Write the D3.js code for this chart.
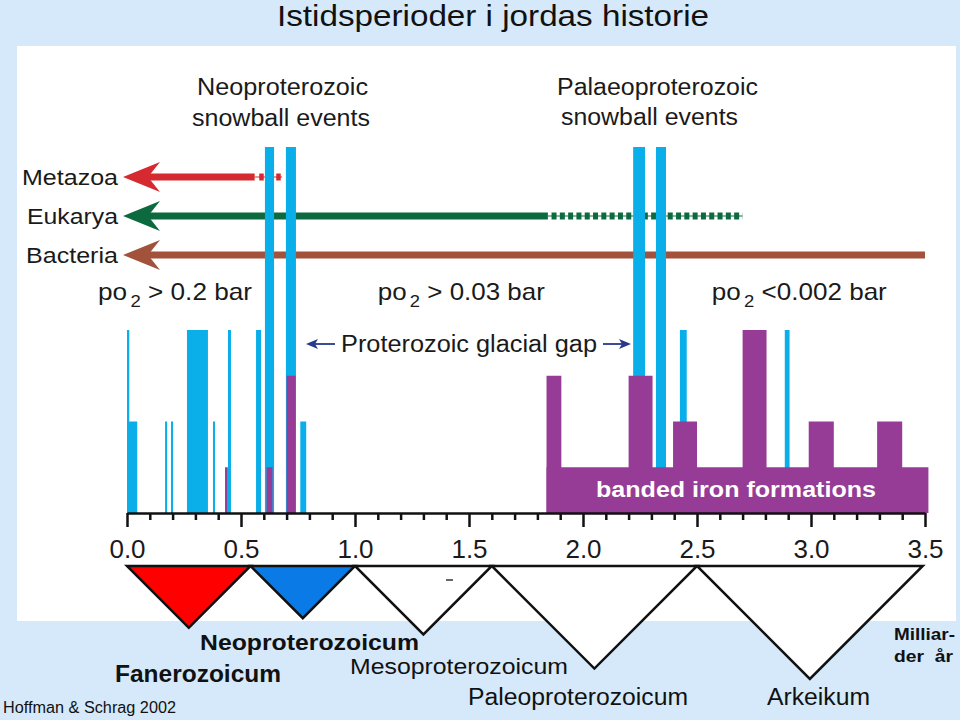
<!DOCTYPE html>
<html><head><meta charset="utf-8">
<script src="https://cdn.jsdelivr.net/npm/d3@7"></script>
<style>
html,body{margin:0;padding:0;background:#d5e9fa;}
svg{display:block;font-family:"Liberation Sans",Arial,Helvetica,sans-serif;}
</style></head>
<body>
<svg id="c" width="960" height="720"></svg>
<script>
// ---------- data ----------
const title = "Istidsperioder i jordas historie";
const tickValues = [0, 0.5, 1.0, 1.5, 2.0, 2.5, 3.0, 3.5];
const tickLabels = ["0.0","0.5","1.0","1.5","2.0","2.5","3.0","3.5"];
// glaciation deposits (Ga start, Ga end, relative height)
const glacialStart  = [0.0, 0.0, 0.167, 0.193, 0.263, 0.377, 0.443, 0.566, 0.605, 0.697, 0.76, 2.22, 2.32, 2.425, 2.885];
const glacialEnd    = [0.01, 0.045, 0.176, 0.202, 0.355, 0.386, 0.456, 0.588, 0.645, 0.741, 0.786, 2.272, 2.364, 2.455, 2.906];
const glacialHeight = [4, 2, 2, 2, 4, 2, 4, 4, 8, 8, 2, 8, 8, 4, 4];
// banded iron formations
const bifStart  = [0.43, 0.612, 0.7, 1.84, 1.84, 2.2, 2.395, 2.7, 2.99, 3.29];
const bifEnd    = [0.442, 0.638, 0.74, 1.905, 3.515, 2.305, 2.5, 2.805, 3.1, 3.4];
const bifHeight = [1, 1, 3, 3, 1, 3, 2, 4, 2, 2];
// lineages
const lineageNames = ["Metazoa", "Eukarya", "Bacteria"];
const lineageSolidEnd = [0.56, 1.846, 3.5];
const lineageDashStart = [0.58, 1.862, null];
const lineageDashEnd = [0.68, 2.7, null];
// oxygen levels
const oxyValues = [" > 0.2 bar", " > 0.03 bar", " <0.002 bar"];
const oxyPos = [-0.127, 1.1, 2.565];
// eras (Ga)
const eraNames = ["Fanerozoicum", "Neoproterozoicum", "Mesoproterozoicum", "Paleoproterozoicum", "Arkeikum"];
const eraStart = [0.0, 0.542, 1.0, 1.6, 2.5];
const eraEnd   = [0.542, 1.0, 1.6, 2.5, 3.49];

// ---------- setup ----------
const svg = d3.select("#c");
const x = d3.scaleLinear().domain([0, 3.5]).range([127, 925]);
const y = d3.scaleLinear().domain([0, 8]).range([513, 147]);
const lineageColor = d3.scaleOrdinal().domain(lineageNames).range(["#d42a30", "#0d6a3f", "#a2513a"]);
const eraFill = d3.scaleOrdinal().domain(eraNames).range(["#ff0000", "#0a7be6", "#ffffff", "#ffffff", "#ffffff"]);
const blue = "#0aaee8", purple = "#963c96";

function txt(parent, x0, y0, s, size, len, o = {}) {
  const t = parent.append("text").attr("x", x0).attr("y", y0).attr("font-size", size)
    .attr("fill", o.fill || "#1a1a1a").text(s);
  if (len) t.attr("textLength", len).attr("lengthAdjust", "spacingAndGlyphs");
  if (o.bold) t.attr("font-weight", "bold");
  if (o.anchor) t.attr("text-anchor", o.anchor);
  return t;
}

svg.append("rect").attr("width", 960).attr("height", 720).attr("fill", "#d5e9fa");
svg.append("rect").attr("x", 17).attr("y", 46).attr("width", 939).attr("height", 575).attr("fill", "#ffffff");

txt(svg, 277, 26, title, 30, 432, {fill: "#111"});

// snowball labels
txt(svg, 197, 95, "Neoproterozoic", 23, 171);
txt(svg, 192, 126, "snowball events", 23, 178);
txt(svg, 557, 95, "Palaeoproterozoic", 23, 201);
txt(svg, 561, 125, "snowball events", 23, 177);

// lineages
const rowY = [177, 216, 255];
const lineageTextX = [22, 27, 26];
lineageNames.forEach((n, i) => {
  const c = lineageColor(n), yy = rowY[i];
  const g = svg.append("g");
  g.append("line").attr("x1", x(0) + 20).attr("x2", x(lineageSolidEnd[i])).attr("y1", yy).attr("y2", yy)
    .attr("stroke", c).attr("stroke-width", 7);
  if (lineageDashStart[i] != null) {
    g.append("line").attr("x1", x(lineageSolidEnd[i])).attr("x2", x(lineageDashEnd[i])).attr("y1", yy).attr("y2", yy)
      .attr("stroke", c).attr("stroke-width", 1);
    g.append("line").attr("x1", x(lineageDashStart[i])).attr("x2", x(lineageDashEnd[i])).attr("y1", yy).attr("y2", yy)
      .attr("stroke", c).attr("stroke-width", 7).attr("stroke-dasharray", i === 0 ? "4.5,4" : "5,3.3");
  }
  const tip = x(0) - 4;
  g.append("path").attr("d", `M${tip},${yy} L${tip + 37},${yy - 15} L${tip + 25},${yy} L${tip + 37},${yy + 15} Z`).attr("fill", c);
  txt(svg, lineageTextX[i], yy + 8, n, 22.5, 118 - lineageTextX[i]);
});

// oxygen labels
const oxyLen = [154, 167, 175];
oxyValues.forEach((v, i) => {
  const t = svg.append("text").attr("x", x(oxyPos[i])).attr("y", 300).attr("font-size", 24).attr("fill", "#1a1a1a")
    .attr("textLength", oxyLen[i]).attr("lengthAdjust", "spacingAndGlyphs");
  t.append("tspan").text("po");
  t.append("tspan").attr("dy", 7).attr("dx", 3).attr("font-size", 17).text("2");
  t.append("tspan").attr("dy", -7).text(v);
});

// glacial gap
const gap = svg.append("g");
txt(gap, 341, 352, "Proterozoic glacial gap", 23, 256);
const ac = "#27398a";
gap.append("line").attr("x1", 310).attr("x2", 335).attr("y1", 344).attr("y2", 344).attr("stroke", ac).attr("stroke-width", 1.8);
gap.append("path").attr("d", "M306,344 L318,339 L315,344 L318,349 Z").attr("fill", ac);
gap.append("line").attr("x1", 603).attr("x2", 627).attr("y1", 344).attr("y2", 344).attr("stroke", ac).attr("stroke-width", 1.8);
gap.append("path").attr("d", "M631,344 L619,339 L622,344 L619,349 Z").attr("fill", ac);

// glacial bars
svg.append("g").selectAll("rect").data(glacialStart.map((s, i) => ({s, e: glacialEnd[i], h: glacialHeight[i]})))
  .join("rect").attr("x", d => x(d.s)).attr("width", d => x(d.e) - x(d.s))
  .attr("y", d => y(d.h)).attr("height", d => y(0) - y(d.h)).attr("fill", blue);
// BIF bars
svg.append("g").selectAll("rect").data(bifStart.map((s, i) => ({s, e: bifEnd[i], h: bifHeight[i]})))
  .join("rect").attr("x", d => x(d.s)).attr("width", d => x(d.e) - x(d.s))
  .attr("y", d => y(d.h)).attr("height", d => y(0) - y(d.h)).attr("fill", purple);
txt(svg, 596, 497, "banded iron formations", 22, 280, {bold: true, fill: "#ffffff"});

// axis
const major = d3.axisBottom(x).tickValues(tickValues).tickSize(14).tickSizeOuter(0)
  .tickFormat((d, i) => tickLabels[i]);
const minor = d3.axisBottom(x).tickValues(d3.range(0, 36).map(i => i / 10).filter(v => Math.round(v * 10) % 5 !== 0))
  .tickSize(7).tickSizeOuter(0).tickFormat("");
const ax = svg.append("g").attr("transform", "translate(0,513)").call(major);
ax.select(".domain").attr("stroke", "#111").attr("stroke-width", 2.5);
ax.selectAll(".tick line").attr("stroke", "#111").attr("stroke-width", 2.5);
ax.selectAll(".tick text").attr("y", 31).attr("dy", 14).attr("font-size", 26).attr("fill", "#1a1a1a")
  .attr("font-family", "Liberation Sans, Arial, sans-serif");
const mx = svg.append("g").attr("transform", "translate(0,513)").call(minor);
mx.select(".domain").remove();
mx.selectAll(".tick line").attr("stroke", "#111").attr("stroke-width", 2.5);

// era triangles
const baseY = 566;
svg.append("g").selectAll("path").data(eraNames.map((n, i) => ({n, s: eraStart[i], e: eraEnd[i]})))
  .join("path")
  .attr("d", d => {
    const a = x(d.s), b = x(d.e), m = (a + b) / 2, depth = (b - a) / 2;
    return `M${a},${baseY} L${b},${baseY} L${m},${baseY + depth} Z`;
  })
  .attr("fill", d => eraFill(d.n)).attr("stroke", "#111").attr("stroke-width", 2.5).attr("stroke-linejoin", "miter");
svg.append("line").attr("x1", 446).attr("x2", 453).attr("y1", 580).attr("y2", 580).attr("stroke", "#333").attr("stroke-width", 1.5);

// era labels
txt(svg, 200, 650, eraNames[1], 22, 219, {bold: true, fill: "#111"});
txt(svg, 115, 682, eraNames[0], 23, 166, {bold: true, fill: "#111"});
txt(svg, 350, 674, eraNames[2], 22.5, 218, {fill: "#111"});
txt(svg, 468, 705, eraNames[3], 23, 220, {fill: "#111"});
txt(svg, 767, 705, eraNames[4], 23, 103, {fill: "#111"});
txt(svg, 3, 713, "Hoffman & Schrag 2002", 16, 173, {fill: "#111"});
txt(svg, 894, 640, "Milliar-", 16.5, 61, {bold: true, fill: "#111"});
txt(svg, 894, 662, "der  år", 16.5, 59, {bold: true, fill: "#111"}).attr("xml:space", "preserve");
</script>
</body></html>
